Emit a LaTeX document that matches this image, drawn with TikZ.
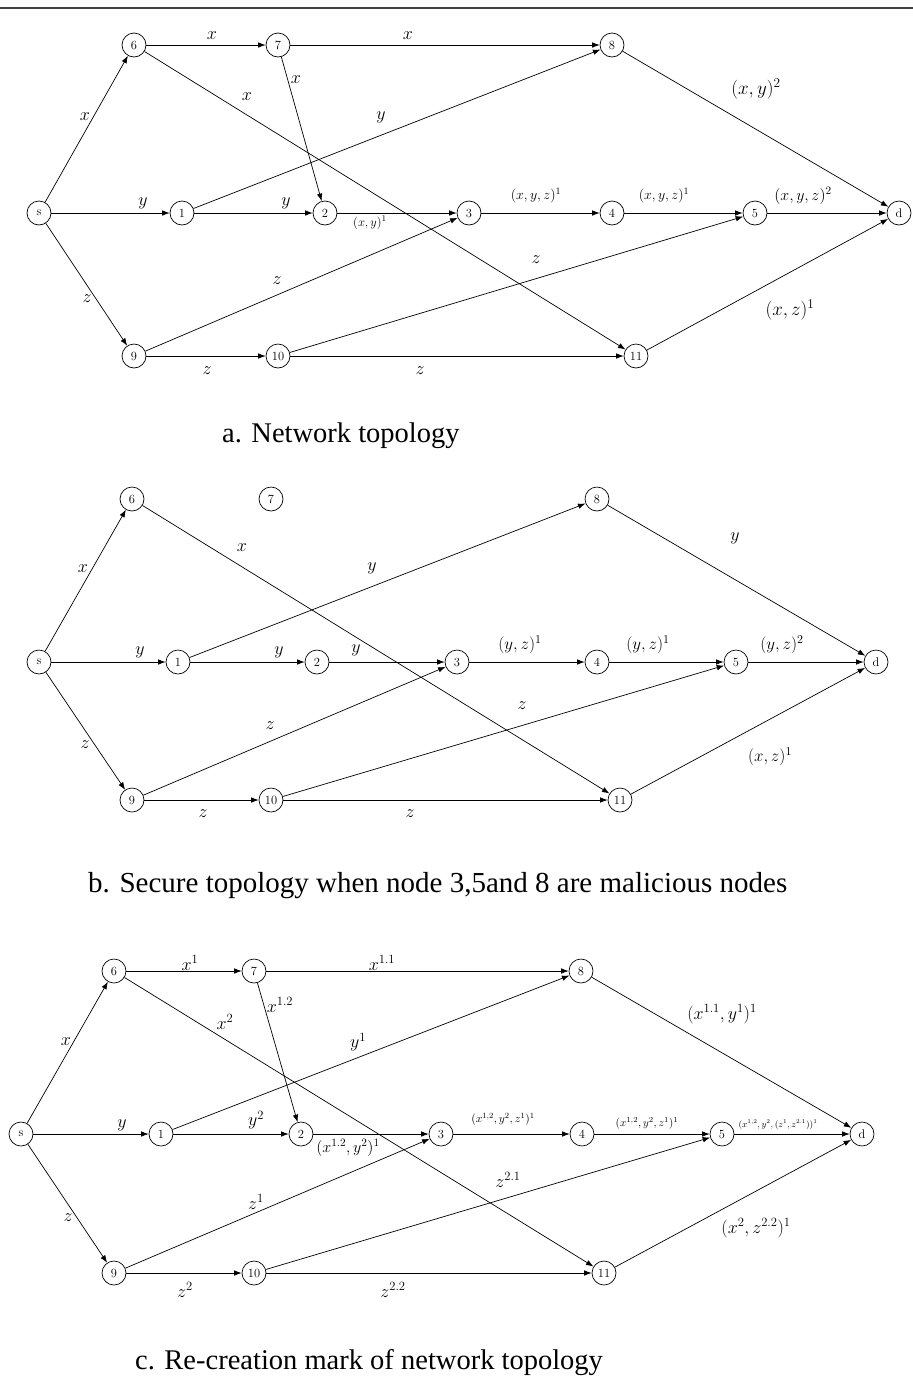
\RequirePackage{fix-cm}
\documentclass[tikz,border=0pt]{standalone}
\usepackage{fontspec}
\newfontfamily\capfont{Liberation Serif}
\usetikzlibrary{arrows.meta}

\tikzset{
	vertex/.style = {circle, draw, line width = 0.7pt, minimum size = 24pt, inner sep = 0pt, font = \fontsize{12.5}{12.5}\selectfont},
	link/.style = {-{Latex[length = 7.5pt, width = 5.5pt]}, line width = 0.7pt},
	lbl/.style = {inner sep = 0pt, font = \fontsize{#1}{#1}\selectfont},
	lbl/.default = 18,
	captxt/.style = {inner sep = 0pt, anchor = base west, font = \capfont\fontsize{28.5}{30}\selectfont}
}

\begin{document}
\begin{tikzpicture}[x = 1pt, y = -1pt]
		\useasboundingbox (0,0) rectangle (913,1387);
		\draw [line width = 2pt, black!75] (0,8) -- (913,8);

		% a. network topology
		\node[vertex] (as) at (39,213) {s};
		\node[vertex] (a6) at (134,45) {6};
		\node[vertex] (a7) at (278,45) {7};
		\node[vertex] (a8) at (612,45) {8};
		\node[vertex] (a1) at (182,213) {1};
		\node[vertex] (a2) at (325,213) {2};
		\node[vertex] (a3) at (469,213) {3};
		\node[vertex] (a4) at (612,213) {4};
		\node[vertex] (a5) at (755,213) {5};
		\node[vertex] (ad) at (899,213) {d};
		\node[vertex] (a9) at (134,356) {9};
		\node[vertex] (a10) at (278,356) {10};
		\node[vertex] (a11) at (636,356) {11};
		\draw[link] (as) -- (a6);
		\draw[link] (as) -- (a1);
		\draw[link] (as) -- (a9);
		\draw[link] (a6) -- (a7);
		\draw[link] (a6) -- (a11);
		\draw[link] (a7) -- (a8);
		\draw[link] (a7) -- (a2);
		\draw[link] (a1) -- (a8);
		\draw[link] (a1) -- (a2);
		\draw[link] (a2) -- (a3);
		\draw[link] (a3) -- (a4);
		\draw[link] (a4) -- (a5);
		\draw[link] (a5) -- (ad);
		\draw[link] (a8) -- (ad);
		\draw[link] (a9) -- (a3);
		\draw[link] (a9) -- (a10);
		\draw[link] (a10) -- (a5);
		\draw[link] (a10) -- (a11);
		\draw[link] (a11) -- (ad);
		\node[lbl] (la-s6) at (85,117) {$x$};
		\node[lbl] (la-67) at (212,36) {$x$};
		\node[lbl] (la-78) at (408,36) {$x$};
		\node[lbl] (la-72) at (296,80) {$x$};
		\node[lbl] (la-611) at (247,97) {$x$};
		\node[lbl] (la-18) at (381,117) {$y$};
		\node[lbl] (la-s1) at (143,203) {$y$};
		\node[lbl] (la-12) at (286,203) {$y$};
		\node[lbl = 12.5] (la-23) at (370,223) {$(x,y)^1$};
		\node[lbl] (la-s9) at (87,299) {$z$};
		\node[lbl] (la-93) at (277,281) {$z$};
		\node[lbl] (la-910) at (207,371) {$z$};
		\node[lbl] (la-1011) at (420,371) {$z$};
		\node[lbl] (la-105) at (536,260) {$z$};
		\node[lbl = 14] (la-34) at (536,196) {$(x,y,z)^1$};
		\node[lbl = 14] (la-45) at (664,196) {$(x,y,z)^1$};
		\node[lbl = 16] (la-5d) at (803,196) {$(x,y,z)^2$};
		\node[lbl = 19] (la-8d) at (756,89) {$(x,y)^2$};
		\node[lbl = 19] (la-11d) at (790,310) {$(x,z)^1$};
		\node[captxt] (capa) at (222,442) {a. Network topology};

		% b. secure topology
		\node[vertex] (bs) at (39,662) {s};
		\node[vertex] (b6) at (132,499) {6};
		\node[vertex] (b7) at (271,499) {7};
		\node[vertex] (b8) at (597,499) {8};
		\node[vertex] (b1) at (178,662) {1};
		\node[vertex] (b2) at (317,662) {2};
		\node[vertex] (b3) at (457,662) {3};
		\node[vertex] (b4) at (597,662) {4};
		\node[vertex] (b5) at (736,662) {5};
		\node[vertex] (bd) at (876,662) {d};
		\node[vertex] (b9) at (132,800) {9};
		\node[vertex] (b10) at (271,800) {10};
		\node[vertex] (b11) at (620,800) {11};
		\draw[link] (bs) -- (b6);
		\draw[link] (bs) -- (b1);
		\draw[link] (bs) -- (b9);
		\draw[link] (b6) -- (b11);
		\draw[link] (b1) -- (b8);
		\draw[link] (b1) -- (b2);
		\draw[link] (b2) -- (b3);
		\draw[link] (b3) -- (b4);
		\draw[link] (b4) -- (b5);
		\draw[link] (b5) -- (bd);
		\draw[link] (b8) -- (bd);
		\draw[link] (b9) -- (b3);
		\draw[link] (b9) -- (b10);
		\draw[link] (b10) -- (b5);
		\draw[link] (b10) -- (b11);
		\draw[link] (b11) -- (bd);
		\node[lbl] (lb-s6) at (83,569) {$x$};
		\node[lbl] (lb-611) at (242,548) {$x$};
		\node[lbl] (lb-18) at (372,568) {$y$};
		\node[lbl] (lb-s1) at (140,652) {$y$};
		\node[lbl] (lb-12) at (279,652) {$y$};
		\node[lbl] (lb-23) at (356,650) {$y$};
		\node[lbl] (lb-s9) at (85,745) {$z$};
		\node[lbl] (lb-93) at (270,726) {$z$};
		\node[lbl] (lb-910) at (203,814) {$z$};
		\node[lbl] (lb-1011) at (410,814) {$z$};
		\node[lbl] (lb-105) at (522,706) {$z$};
		\node[lbl = 17] (lb-34) at (520,645) {$(y,z)^1$};
		\node[lbl = 17] (lb-45) at (648,645) {$(y,z)^1$};
		\node[lbl = 17] (lb-5d) at (782,645) {$(y,z)^2$};
		\node[lbl] (lb-8d) at (735,538) {$y$};
		\node[lbl = 17] (lb-11d) at (770,757) {$(x,z)^1$};
		\node[captxt, font = \capfont\fontsize{29}{30}\selectfont] (capb) at (88,892) {b. Secure topology when node 3,5and 8 are malicious nodes};

		% c. re-creation mark
		\node[vertex] (cs) at (21,1134) {s};
		\node[vertex] (c6) at (114,971) {6};
		\node[vertex] (c7) at (254,971) {7};
		\node[vertex] (c8) at (581,971) {8};
		\node[vertex] (c1) at (161,1134) {1};
		\node[vertex] (c2) at (301,1134) {2};
		\node[vertex] (c3) at (441,1134) {3};
		\node[vertex] (c4) at (582,1134) {4};
		\node[vertex] (c5) at (722,1134) {5};
		\node[vertex] (cd) at (862,1134) {d};
		\node[vertex] (c9) at (114,1273) {9};
		\node[vertex] (c10) at (254,1273) {10};
		\node[vertex] (c11) at (604,1273) {11};
		\draw[link] (cs) -- (c6);
		\draw[link] (cs) -- (c1);
		\draw[link] (cs) -- (c9);
		\draw[link] (c6) -- (c7);
		\draw[link] (c6) -- (c11);
		\draw[link] (c7) -- (c8);
		\draw[link] (c7) -- (c2);
		\draw[link] (c1) -- (c8);
		\draw[link] (c1) -- (c2);
		\draw[link] (c2) -- (c3);
		\draw[link] (c3) -- (c4);
		\draw[link] (c4) -- (c5);
		\draw[link] (c5) -- (cd);
		\draw[link] (c8) -- (cd);
		\draw[link] (c9) -- (c3);
		\draw[link] (c9) -- (c10);
		\draw[link] (c10) -- (c5);
		\draw[link] (c10) -- (c11);
		\draw[link] (c11) -- (cd);
		\node[lbl] (lc-s6) at (66,1042) {$x$};
		\node[lbl] (lc-67) at (190,963) {$x^1$};
		\node[lbl] (lc-78) at (382,963) {$x^{1.1}$};
		\node[lbl] (lc-72) at (280,1005) {$x^{1.2}$};
		\node[lbl] (lc-611) at (225,1022) {$x^2$};
		\node[lbl] (lc-18) at (358,1042) {$y^1$};
		\node[lbl] (lc-s1) at (122,1125) {$y$};
		\node[lbl] (lc-12) at (256,1120) {$y^2$};
		\node[lbl = 16] (lc-23) at (348,1148) {$(x^{1.2},y^2)^1$};
		\node[lbl] (lc-s9) at (68,1218) {$z$};
		\node[lbl] (lc-93) at (256,1202) {$z^1$};
		\node[lbl] (lc-910) at (185,1290) {$z^2$};
		\node[lbl] (lc-1011) at (393,1290) {$z^{2.2}$};
		\node[lbl] (lc-105) at (508,1180) {$z^{2.1}$};
		\node[lbl = 11.5] (lc-34) at (503,1119) {$(x^{1,2},y^2,z^1)^1$};
		\node[lbl = 11] (lc-45) at (647,1123) {$(x^{1,2},y^2,z^1)^1$};
		\node[lbl = 9] (lc-5d) at (778,1125) {$(x^{1,2},y^2,(z^1,z^{2.1}))^1$};
		\node[lbl = 18] (lc-8d) at (722,1014) {$(x^{1.1},y^1)^1$};
		\node[lbl = 18] (lc-11d) at (756,1228) {$(x^2,z^{2.2})^1$};
		\node[captxt] (capc) at (135,1369) {c. Re-creation mark of network topology};
	\end{tikzpicture}
\end{document}
